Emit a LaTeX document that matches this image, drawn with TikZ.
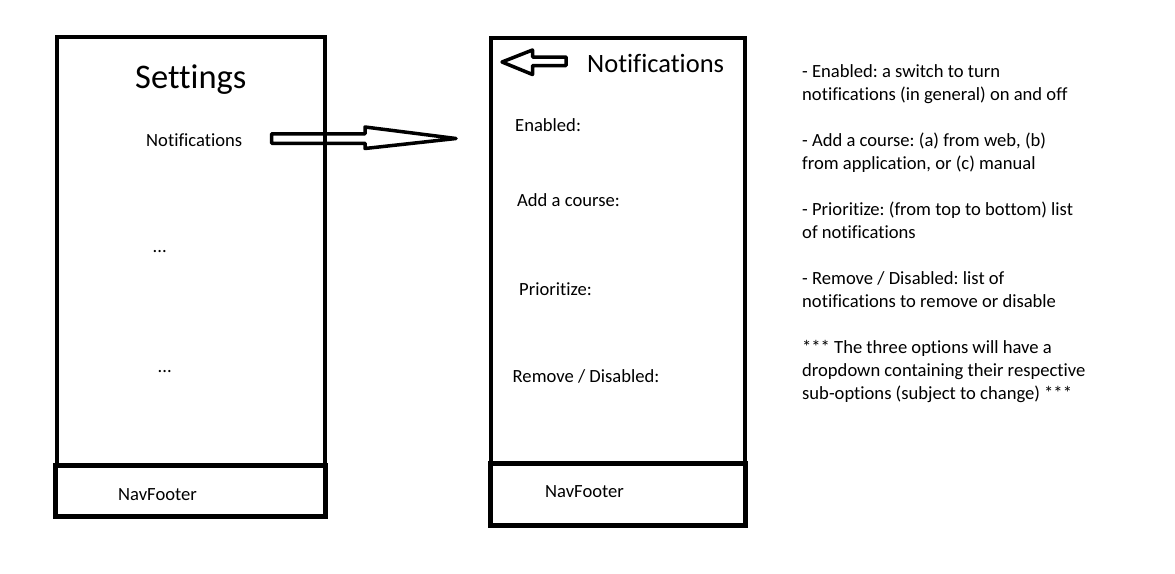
\documentclass[tikz,border=0pt]{standalone}
\usepackage{fontspec}
\setmainfont{Carlito}[Ligatures={NoCommon,NoContextual}]
\frenchspacing

\tikzset{
    frame/.style={line width=4pt},
    footer/.style={line width=5pt},
    label/.style={anchor=base west, inner sep=0pt, font=\fontsize{18.6}{23}\selectfont},
    blockarrow/.style={line width=3.5pt, line join=round},
}

\begin{document}
\begin{tikzpicture}[x=1pt,y=-1pt]

        \useasboundingbox (0,0) rectangle (1175,573);

        % settings screen
        \draw[frame] (57,37) rectangle (325,465);
        \draw[footer] (55,465) rectangle (325.5,516.5);

        \node[label, font=\fontsize{34.5}{38}\selectfont] (settings) at (135,88) {Settings};
        \node[label] (lnotif) at (146,146) {Notifications};
        \node[label] (dotsa) at (152.5,252) {...};
        \node[label] (dotsb) at (157.5,372) {...};
        \node[label] (lfooter) at (118,500) {NavFooter};

        % notifications screen
        \draw[frame] (491,38) rectangle (745,463);
        \draw[footer] (490,463) rectangle (745.5,525.5);

        \node[label, font=\fontsize{26.5}{30}\selectfont] (rtitle) at (587,72) {Notifications};
        \node[label] (enabled) at (515,131) {Enabled:};
        \node[label] (addcourse) at (517,206) {Add a course:};
        \node[label] (prioritize) at (519,295) {Prioritize:};
        \node[label] (remove) at (512.5,382) {Remove / Disabled:};
        \node[label] (rfooter) at (545,497) {NavFooter};

        % notes
        \node[label, align=left, anchor=north west] (notes) at (802,64.5) {%
        - Enabled: a switch to turn\\
        notifications (in general) on and off\\[23pt]
        - Add a course: (a) from web, (b)\\
        from application, or (c) manual\\[23pt]
        - Prioritize: (from top to bottom) list\\
        of notifications\\[23pt]
        - Remove / Disabled: list of\\
        notifications to remove or disable\\[23pt]
        *** The three options will have a\\
        dropdown containing their respective\\
        sub-options (subject to change) ***};

        % #######################################

        % forward arrow
        \draw[blockarrow] (271.5,133.75) -- (365,133.75) -- (365,127)
        -- (456,138.5) -- (365,148.5) -- (365,143.25) -- (271.5,143.25) -- cycle;

        % back arrow
        \draw[blockarrow] (566,57) -- (532.5,57) -- (532.5,50)
        -- (502,62) -- (532.5,74.5) -- (532.5,65.5) -- (566,65.5) -- cycle;

    \end{tikzpicture}
\end{document}
